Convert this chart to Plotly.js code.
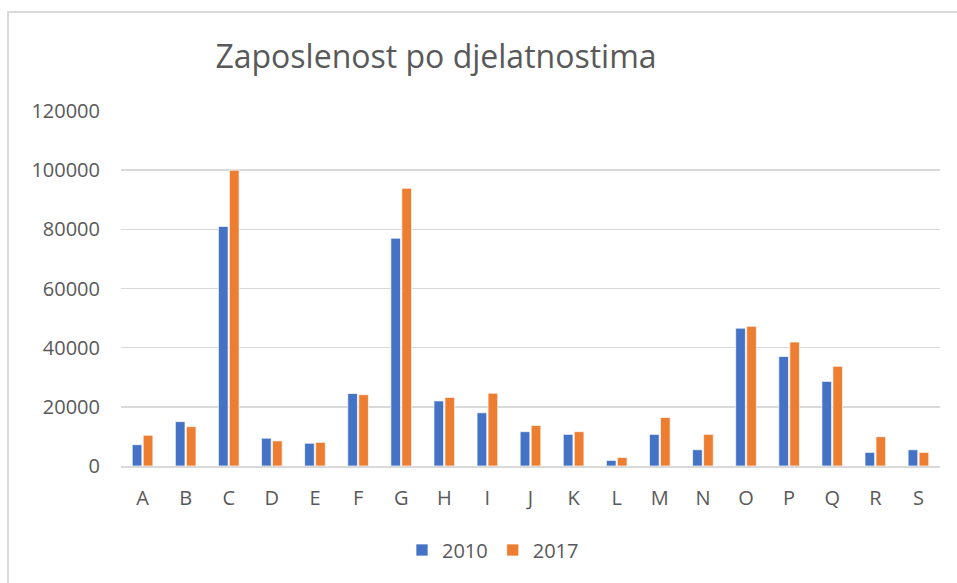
<!DOCTYPE html>
<html>
<head>
<meta charset="utf-8">
<script src="https://cdn.plot.ly/plotly-3.0.1.min.js"></script>
<style>
html,body{margin:0;padding:0;background:#fff;}
#wrap{position:relative;width:957px;height:583px;}
#chart{position:absolute;left:0;top:0;width:957px;height:583px;}
#frame{position:absolute;left:7px;top:11px;width:970px;height:600px;border-left:2px solid #d9d9d9;border-top:2px solid #d9d9d9;pointer-events:none;}
</style>
</head>
<body>
<div id="wrap"><div id="chart"></div><div id="frame"></div></div>
<script>
const categories = ["A","B","C","D","E","F","G","H","I","J","K","L","M","N","O","P","Q","R","S"];
const values2010 = [7200,15000,81000,9400,7700,24500,77000,22000,18000,11600,10700,1900,10700,5500,46600,37000,28600,4600,5500];
const values2017 = [10400,13300,100000,8500,8000,24100,93900,23200,24600,13700,11600,2900,16400,10700,47200,41900,33700,9900,4600];
const seriesNames = ["2010","2017"];
const yTicks = [0,20000,40000,60000,80000,100000,120000];

const font = "'Open Sans', sans-serif";
const grey = "#595959";

const traces = [
  {type:"bar", name:seriesNames[0], x:categories, y:values2010,
   marker:{color:"#4472C4", line:{color:"rgba(255,255,255,0.7)", width:1}}},
  {type:"bar", name:seriesNames[1], x:categories, y:values2017,
   marker:{color:"#ED7D31", line:{color:"rgba(255,255,255,0.7)", width:1}}}
];

const layout = {
  width:957, height:583,
  margin:{l:121, r:17, t:111, b:117, pad:0},
  paper_bgcolor:"#ffffff", plot_bgcolor:"#ffffff",
  barmode:"group", bargap:0.49, bargroupgap:0.12,
  font:{family:font, color:grey, size:20},
  title:{text:"Zaposlenost po djelatnostima", font:{family:font, size:32, color:grey},
         xref:"container", x:436/957, xanchor:"center",
         yref:"container", y:1-57/583, yanchor:"middle"},
  xaxis:{type:"category", showgrid:false, showline:true, linecolor:"#d9d9d9", linewidth:1.5,
         ticks:"", tickfont:{family:font, size:20, color:grey}, ticklabelstandoff:13, fixedrange:true},
  yaxis:{range:[0,120000], tickvals:yTicks, ticktext:yTicks.map(String),
         showgrid:true, gridcolor:"#d9d9d9", gridwidth:1.5, zeroline:false, showline:false,
         ticks:"", tickfont:{family:font, size:20, color:grey}, ticklabelstandoff:20, fixedrange:true},
  showlegend:true,
  legend:{orientation:"h", xref:"container", x:493/957, xanchor:"center",
          yref:"container", y:1-550/583, yanchor:"middle",
          font:{family:font, size:20, color:grey}, itemwidth:30, traceorder:"normal"}
};

Plotly.newPlot("chart", traces, layout, {displayModeBar:false, staticPlot:true});
</script>
</body>
</html>
